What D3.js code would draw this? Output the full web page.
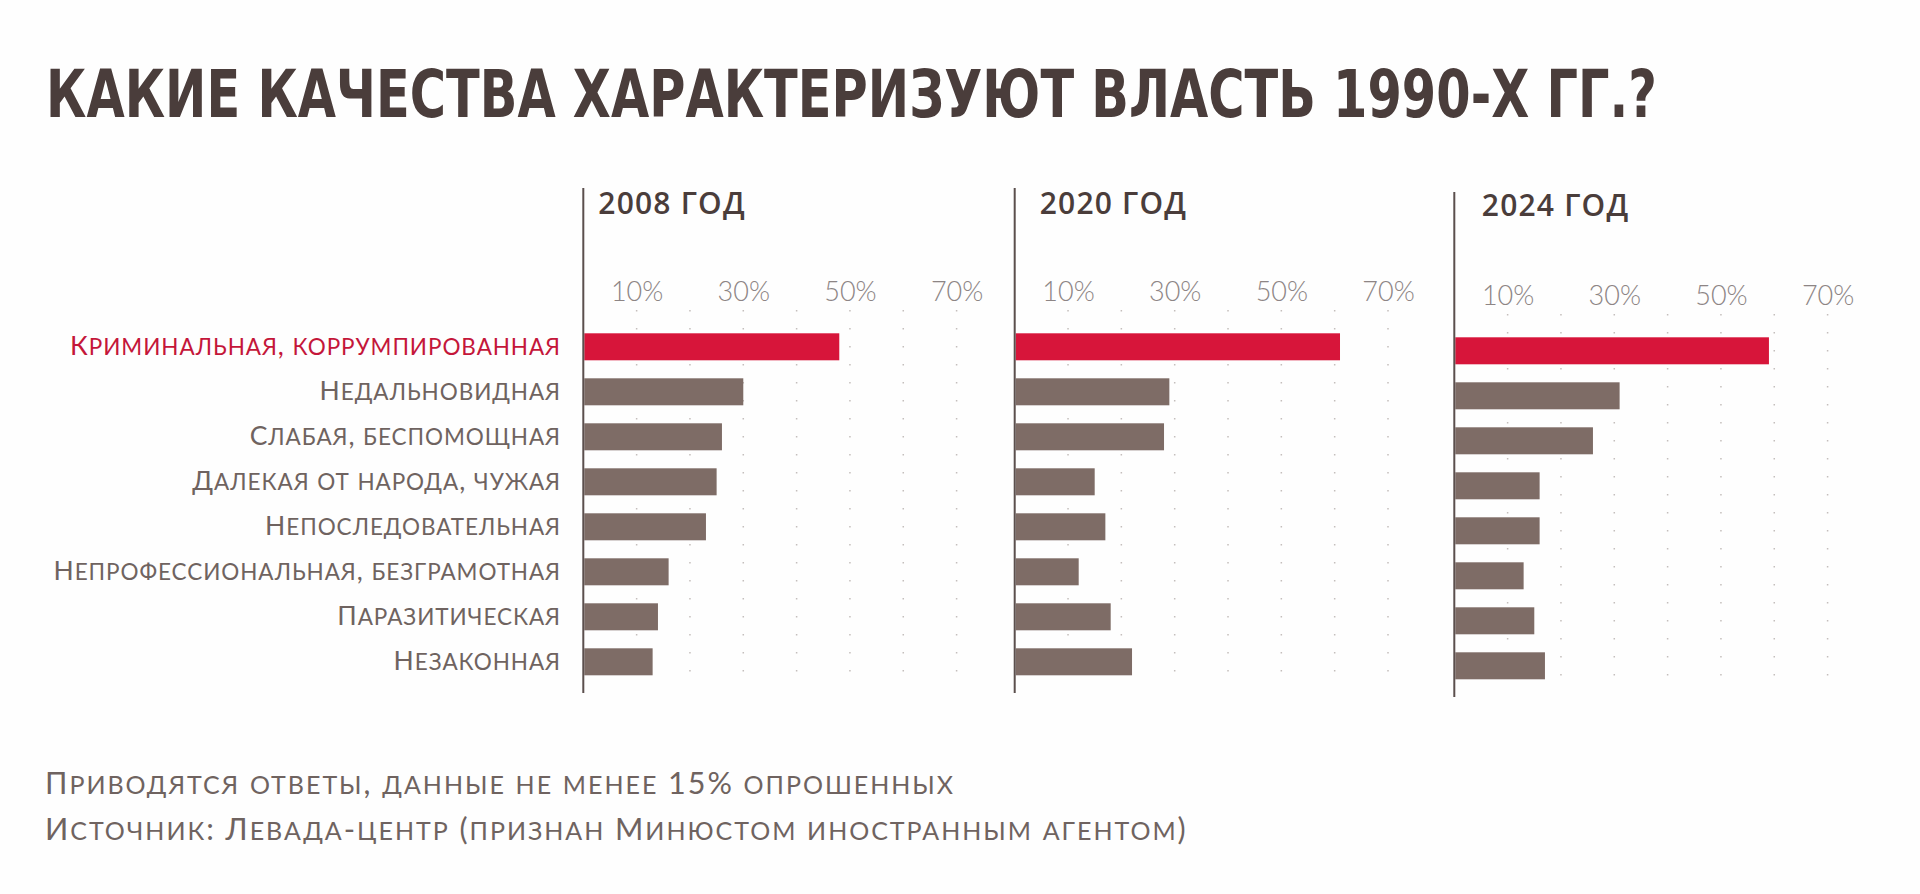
<!DOCTYPE html>
<html><head><meta charset="utf-8">
<script src="https://cdn.jsdelivr.net/npm/d3@7/dist/d3.min.js"></script>
<style>
html,body{margin:0;padding:0;background:#fefefe;}
svg{display:block;}
.sc{text-transform:uppercase;}
</style></head><body>
<svg id="chart" width="1920" height="894"></svg>
<script>
// ---------- data ----------
const chartTitle = "КАКИЕ КАЧЕСТВА ХАРАКТЕРИЗУЮТ ВЛАСТЬ 1990-Х ГГ.?";
const categories = [
  "Криминальная, коррумпированная",
  "Недальновидная",
  "Слабая, беспомощная",
  "Далекая от народа, чужая",
  "Непоследовательная",
  "Непрофессиональная, безграмотная",
  "Паразитическая",
  "Незаконная"
];
const years = ["2008 год", "2020 год", "2024 год"];
const values2008 = [48, 30, 26, 25, 23, 16, 14, 13];
const values2020 = [61, 29, 28, 15, 17, 12, 18, 22];
const values2024 = [59, 31, 26, 16, 16, 13, 15, 17];
const tickValues = [10, 30, 50, 70];
const gridValues = [10, 20, 30, 40, 50, 60, 70];
const notes = [
  "Приводятся ответы, данные не менее 15% опрошенных",
  "Источник: Левада-центр (признан Минюстом иностранным агентом)"
];

// ---------- layout / style ----------
const series = [values2008, values2020, values2024];
const panels = [
  {x0: 583.3, dy: 0, tx: 15},
  {x0: 1014.7, dy: 0, tx: 25},
  {x0: 1454.3, dy: 4, tx: 27.5}
];
const C = {
  dark: "#4a3d3b", bar: "#7e6c66", red: "#d7153a", redText: "#c4163a",
  label: "#6f6360", tick: "#8d8585", axis: "#5b4f4d", grid: "#c4bebc"
};
const svg = d3.select("#chart");
svg.append("rect").attr("width", 1920).attr("height", 894).attr("fill", "#fefefe");

// title (horizontally scaled to the reference width)
const tg = svg.append("g");
const tt = tg.append("text")
  .attr("x", 0).attr("y", 0)
  .attr("font-family", "'Liberation Sans Narrow','DejaVu Sans Condensed','Open Sans',sans-serif")
  .attr("font-weight", 700).attr("font-size", 66)
  .attr("fill", C.dark)
  .text(chartTitle);
const tw = tt.node().getBBox().width;
tg.attr("transform", `translate(46,117) scale(${1611 / tw},1)`);

const x = d3.scaleLinear().domain([0, 70]).range([0, 373.3]);
const y = d3.scaleBand().domain(categories).range([324.3, 684.3]).paddingInner(0.4).paddingOuter(0.2);

panels.forEach((p, i) => {
  const g = svg.append("g").attr("transform", `translate(${p.x0},${p.dy})`);
  // dotted grid
  g.selectAll("line.grid").data(gridValues).join("line").attr("class", "grid")
    .attr("x1", d => x(d)).attr("x2", d => x(d))
    .attr("y1", 310).attr("y2", 686)
    .attr("stroke", C.grid).attr("stroke-width", 1.5)
    .attr("stroke-dasharray", "1.5 16.5");
  // bars
  g.selectAll("rect.bar").data(series[i]).join("rect").attr("class", "bar")
    .attr("x", x(0) + 1)
    .attr("y", (d, j) => y(categories[j]))
    .attr("height", y.bandwidth())
    .attr("width", d => x(d) - 1)
    .attr("fill", (d, j) => j === 0 ? C.red : C.bar);
  // axis line
  g.append("line").attr("x1", 0).attr("x2", 0).attr("y1", 188).attr("y2", 693)
    .attr("stroke", C.axis).attr("stroke-width", 2);
  // ticks
  const ax = d3.axisTop(x).tickValues(tickValues).tickSize(0).tickPadding(0).tickFormat(d => d + "%");
  const ag = g.append("g").attr("transform", "translate(0,301)").call(ax);
  ag.select(".domain").remove();
  ag.selectAll("text")
    .attr("font-family", "Lato, 'Open Sans', sans-serif").attr("font-weight", 300)
    .attr("font-size", 27).attr("fill", C.tick);
  // panel title
  g.append("text").attr("x", p.tx).attr("y", 214 - p.dy / 2)
    .attr("font-family", "'Open Sans', sans-serif").attr("font-weight", 600)
    .attr("font-size", 30).attr("letter-spacing", 1.2).attr("fill", C.dark)
    .text(years[i].toUpperCase());
});

// small caps helper
function smallCaps(t, str, big, small) {
  const parts = str.match(/[a-zа-яё]+|[^a-zа-яё]+/g);
  parts.forEach(s => {
    const isLower = /[a-zа-яё]/.test(s[0]);
    t.append("tspan").attr("class", isLower ? "sc" : null)
      .attr("font-size", isLower ? small : big).text(s);
  });
  return t;
}
function fitSpacing(texts, refNode, target, n) {
  const w = refNode.getBBox().width;
  let ls = (target - w) / (n - 1);
  ls = Math.max(-1.5, Math.min(4, ls));
  texts.attr("letter-spacing", ls);
}

// category labels
const lg = svg.append("g")
  .attr("font-family", "Lato, 'Noto Sans', sans-serif").attr("font-weight", 400);
categories.forEach((c, j) => {
  const t = lg.append("text").attr("x", 561)
    .attr("y", y(c) + y.bandwidth() / 2 + 8)
    .attr("text-anchor", "end")
    .attr("fill", j === 0 ? C.redText : C.label);
  smallCaps(t, c, 26.5, 22.5);
});
fitSpacing(lg.selectAll("text"), lg.select("text").node(), 490, categories[0].length);

// footnotes
const fg = svg.append("g")
  .attr("font-family", "Lato, 'Noto Sans', sans-serif").attr("font-weight", 400)
  .attr("fill", C.label);
notes.forEach((s, k) => {
  const t = fg.append("text").attr("x", 45).attr("y", 794 + k * 46);
  smallCaps(t, s, 30.5, 25);
});
fitSpacing(fg.selectAll("text"), fg.select("text").node(), 908, notes[0].length);
</script>
</body></html>
